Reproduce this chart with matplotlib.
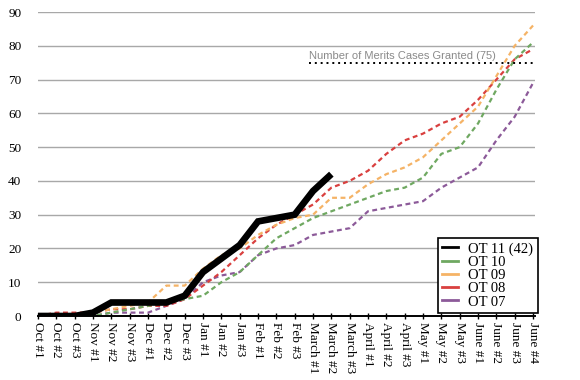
import numpy as np
import matplotlib
matplotlib.use('Agg')
import matplotlib.pyplot as plt

labels = ['Oct #1', 'Oct #2', 'Oct #3', 'Nov #1', 'Nov #2', 'Nov #3',
          'Dec #1', 'Dec #2', 'Dec #3', 'Jan #1', 'Jan #2', 'Jan #3',
          'Feb #1', 'Feb #2', 'Feb #3', 'March #1', 'March #2', 'March #3',
          'April #1', 'April #2', 'April #3', 'May #1', 'May #2', 'May #3',
          'June #1', 'June #2', 'June #3', 'June #4']

ot11 = [0, 0, 0, 1, 4, 4, 4, 4, 6, 13, 17, 21, 28, 29, 30, 37, 42]
ot10 = [0, 0, 0, 0, 1, 2, 3, 4, 5, 6, 10, 13, 18, 23, 26, 29, 31, 33,
        35, 37, 38, 41, 48, 50, 57, 67, 76, 81]
ot09 = [0, 0, 0, 1, 2, 3, 4, 9, 9, 14, 18, 20, 24, 27, 29, 30, 35, 35,
        39, 42, 44, 47, 52, 57, 62, 71, 80, 86]
ot08 = [0, 1, 1, 1, 2, 2, 3, 3, 5, 9, 13, 18, 23, 27, 30, 33, 38, 40,
        43, 48, 52, 54, 57, 59, 64, 70, 76, 79]
ot07 = [0, 0, 0, 0, 1, 1, 1, 3, 5, 10, 12, 13, 18, 20, 21, 24, 25, 26,
        31, 32, 33, 34, 38, 41, 44, 52, 59, 69]

granted = 75
granted_start = 14.8

serif = ['Liberation Serif', 'DejaVu Serif']

fig = plt.figure(figsize=(5.8, 3.8), dpi=100)
ax = fig.add_axes([0.0655, 0.1684, 0.857, 0.8])

x = np.arange(len(labels))
dash = (0, (2.2, 1.6))

# older terms, dashed, drawn first so OT 11 sits on top
ax.plot(x, ot07, color='#8c5a99', lw=1.6, linestyle=dash)
ax.plot(x, ot08, color='#d9403f', lw=1.6, linestyle=dash)
ax.plot(x, ot09, color='#f5b366', lw=1.6, linestyle=dash)
ax.plot(x, ot10, color='#6fa861', lw=1.6, linestyle=dash)
ax.plot(np.arange(len(ot11)), ot11, color='black', lw=4.8,
        solid_capstyle='butt', solid_joinstyle='miter')

# merits cases line
ax.plot([granted_start, len(labels) - 1], [granted, granted], color='black',
        lw=1.4, linestyle=(0, (1, 2)))
ax.text(granted_start, granted + 0.6, 'Number of Merits Cases Granted (75)',
        fontsize=8, color='#8a8a8a', family='Liberation Sans',
        ha='left', va='bottom')

ax.set_xlim(0, 27.11)
ax.set_ylim(0, 90)
ax.set_yticks(range(0, 91, 10))
ax.set_xticks(x)
ax.set_xticklabels(labels, rotation=-90, fontsize=9.5, family=serif,
                   va='top', ha='center')
for t in ax.get_yticklabels():
    t.set_family(serif)
    t.set_fontsize(9.5)

ax.grid(axis='y', color='#a8a8a8', lw=1)
ax.set_axisbelow(True)
for s in ['top', 'right', 'left']:
    ax.spines[s].set_visible(False)
ax.spines['bottom'].set_linewidth(1.4)
ax.tick_params(axis='x', direction='inout', length=5, width=1, pad=2)
ax.tick_params(axis='y', length=0, pad=12)

handles = [plt.Line2D([], [], color=c, lw=2) for c in
           ['black', '#6fa861', '#f5b366', '#d9403f', '#8c5a99']]
names = ['OT 11 (42)', 'OT 10', 'OT 09', 'OT 08', 'OT 07']
leg = ax.legend(handles, names, loc='lower right', bbox_to_anchor=(1.005, 0.01),
                prop={'family': serif, 'size': 10.5}, frameon=True, fancybox=False,
                borderaxespad=0, handlelength=1.1, labelspacing=0.0,
                handletextpad=0.7, borderpad=0.3)
leg.get_frame().set_edgecolor('black')
leg.get_frame().set_linewidth(1.2)
leg.get_frame().set_alpha(1)

fig.savefig('out.png', dpi=100)
